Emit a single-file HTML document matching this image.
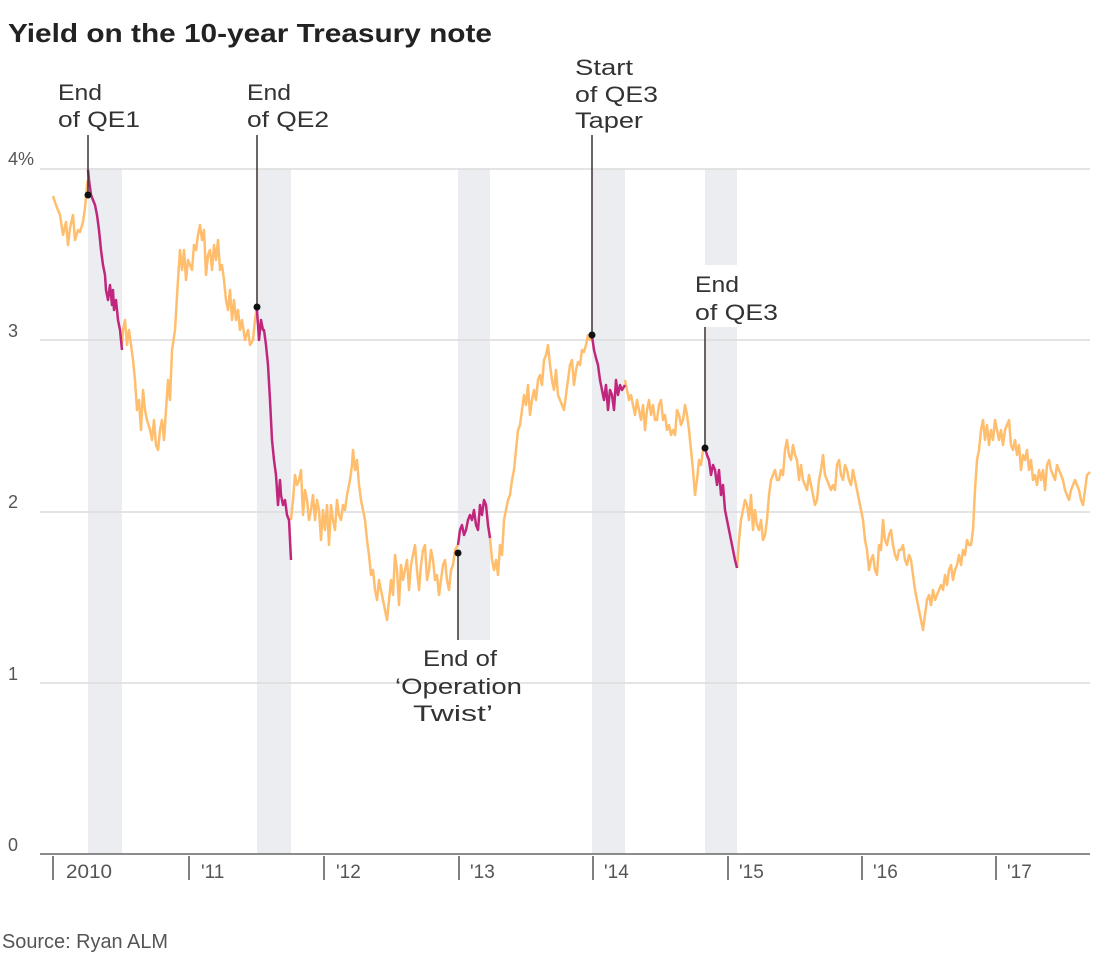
<!DOCTYPE html>
<html><head><meta charset="utf-8"><style>
html,body{margin:0;padding:0;background:#fff;}
svg text{font-family:"Liberation Sans",sans-serif;}
</style></head><body>
<svg width="1118" height="960" xmlns="http://www.w3.org/2000/svg">
<rect width="1118" height="960" fill="#fff"/>
<text x="8" y="42" font-size="26" font-weight="bold" fill="#222" textLength="484" lengthAdjust="spacingAndGlyphs">Yield on the 10-year Treasury note</text>
<g fill="#ebedf0">
<rect x="88" y="169" width="34" height="685"/>
<rect x="257" y="169" width="34" height="685"/>
<rect x="458" y="169" width="32" height="471"/>
<rect x="592" y="169" width="33" height="685"/>
<rect x="705" y="169" width="32" height="96"/>
<rect x="705" y="327" width="32" height="527"/>
</g>
<g stroke="#dcdcdc" stroke-width="1.5">
<line x1="40" y1="169" x2="1090" y2="169"/>
<line x1="40" y1="340" x2="1090" y2="340"/>
<line x1="40" y1="512" x2="1090" y2="512"/>
<line x1="40" y1="683" x2="1090" y2="683"/>
</g>
<line x1="40" y1="854" x2="1090" y2="854" stroke="#666" stroke-width="1.5"/>
<g font-size="18" fill="#555">
<text x="8" y="165">4%</text>
<text x="8" y="337">3</text>
<text x="8" y="508">2</text>
<text x="8" y="680">1</text>
<text x="8" y="851">0</text>
</g>
<g stroke="#555" stroke-width="1.5">
<line x1="53" y1="856" x2="53" y2="880"/><line x1="189" y1="856" x2="189" y2="880"/>
<line x1="324" y1="856" x2="324" y2="880"/><line x1="459" y1="856" x2="459" y2="880"/>
<line x1="593" y1="856" x2="593" y2="880"/><line x1="728" y1="856" x2="728" y2="880"/>
<line x1="862" y1="856" x2="862" y2="880"/><line x1="996" y1="856" x2="996" y2="880"/>
</g>
<g font-size="19" fill="#555">
<text x="66" y="878" textLength="46" lengthAdjust="spacingAndGlyphs">2010</text><text x="201" y="878">'11</text><text x="336" y="878">'12</text>
<text x="470" y="878">'13</text><text x="604" y="878">'14</text><text x="739" y="878">'15</text>
<text x="873" y="878">'16</text><text x="1007" y="878">'17</text>
</g>
<g fill="none" stroke-width="2.5" stroke-linejoin="round">
<polyline stroke="#ffbe6e" points="53,196 56,205 60,215 63,235 66,222 68,245 70,228 73,215 75,240 78,230 80,232 83,222 85,208 87,185 88,180"/>
<polyline stroke="#ffbe6e" points="122,345 123,330 125,320 127,345 129,330 131,345 133,360 135,380 137,410 139,400 141,430 143,390 145,410 147,420 150,430 152,440 154,420 156,445 158,450 160,430 162,420 164,440 166,410 168,380 170,400 172,350 175,330 178,280 180,250 182,270 184,250 186,280 188,260 190,265 192,270 194,245 196,250 198,235 200,225 202,240 204,230 206,275 208,255 210,250 212,270 214,245 216,260 218,240 220,270 222,265 224,280 226,300 228,310 230,290 232,320 234,300 236,320 238,310 240,330 242,320 245,340 248,330 250,345 253,340 255,320 257,305"/>
<polyline stroke="#ffbe6e" points="291,520 293,500 295,475 297,485 299,480 301,470 303,515 305,490 307,500 309,520 311,510 313,495 315,520 317,500 319,510 321,540 323,510 325,530 327,505 329,545 331,505 333,520 335,530 337,500 339,515 341,520 343,505 345,510 347,495 350,480 352,465 353,450 355,470 357,460 359,485 361,500 363,510 365,520 367,540 369,555 371,575 373,570 375,590 377,600 379,580 381,590 383,600 385,610 387,620 389,600 391,580 393,595 395,555 397,570 399,605 401,565 403,580 405,570 407,560 409,590 411,565 413,555 415,545 417,570 419,590 421,565 423,550 425,545 427,580 429,570 431,550 433,560 435,580 437,575 439,595 441,580 443,565 445,560 447,580 449,590 451,570 453,565 455,550 458,545"/>
<polyline stroke="#ffbe6e" points="490,538 492,560 494,570 496,560 498,575 500,545 502,555 504,520 506,510 508,500 510,495 512,480 514,470 516,450 518,430 520,425 522,410 524,395 526,405 528,385 530,415 532,400 534,390 536,400 538,380 540,375 542,385 544,360 546,355 548,345 550,365 552,380 554,390 556,370 558,395 560,400 562,405 564,410 566,395 568,380 570,365 572,360 574,385 576,370 578,362 580,365 582,350 584,352 586,345 588,335 590,340 592,335"/>
<polyline stroke="#ffbe6e" points="625,380 627,390 629,400 631,395 633,405 635,415 637,400 639,410 641,420 643,405 645,430 647,410 649,400 651,415 653,405 655,420 657,420 659,405 661,400 663,420 665,415 667,430 669,425 671,435 673,430 675,435 677,410 679,415 681,425 683,420 685,405 687,415 689,430 691,450 693,470 695,495 697,480 699,460 701,465 703,450 705,448"/>
<polyline stroke="#ffbe6e" points="737,568 739,540 741,520 743,510 745,500 747,505 749,520 751,495 753,530 755,510 757,525 759,530 761,520 763,540 765,535 767,520 769,495 771,480 773,475 775,470 777,480 779,480 781,470 783,475 785,450 787,440 789,455 791,460 793,445 795,455 797,460 799,480 801,465 803,480 805,485 807,490 809,475 811,485 813,495 815,505 817,500 819,480 821,470 823,455 825,475 827,480 829,485 831,490 833,485 835,490 837,465 839,460 841,475 843,480 845,465 847,470 849,480 851,485 853,470 855,480 857,490 859,500 861,510 863,520 865,540 867,550 869,570 871,560 873,555 875,570 877,575 879,545 881,550 883,520 885,540 887,545 889,535 891,530 893,545 895,555 897,560 899,550 901,550 903,545 905,560 907,565 909,555 911,560 913,575 915,590 917,600 919,610 921,620 923,630 925,615 927,600 929,595 931,605 933,590 935,600 937,595 939,590 941,585 943,590 945,575 947,585 949,570 951,565 953,580 955,570 957,565 959,555 961,565 963,550 965,555 967,540 969,545 971,545 973,530 975,490 977,460 979,450 981,430 983,420 985,440 987,425 989,445 991,430 993,440 995,420 997,430 999,440 1001,430 1003,445 1005,430 1007,425 1009,420 1011,445 1013,450 1015,440 1017,455 1019,445 1021,470 1023,455 1025,460 1027,450 1029,470 1031,460 1033,480 1035,475 1037,485 1039,470 1041,480 1043,470 1045,490 1047,465 1049,460 1051,470 1053,475 1055,480 1057,465 1059,470 1061,475 1063,480 1065,490 1067,495 1069,500 1071,490 1073,485 1075,480 1077,485 1079,490 1081,500 1083,505 1085,490 1087,475 1090,472"/>
<polyline stroke="#c0267d" points="88,170 89,180 91,195 93,200 95,205 97,215 99,230 101,250 103,265 105,275 106,290 108,300 110,285 112,305 113,290 114,310 116,300 118,320 120,330 122,350"/>
<polyline stroke="#c0267d" points="257,310 259,340 261,320 263,330 264,330 266,345 268,365 270,400 272,440 274,460 276,475 278,505 280,480 281,495 283,505 285,500 287,515 289,520 291,560"/>
<polyline stroke="#c0267d" points="458,545 460,530 462,525 464,535 466,530 468,520 470,515 472,520 474,510 476,525 478,530 480,505 482,515 484,500 486,505 488,525 490,538"/>
<polyline stroke="#c0267d" points="592,336 594,350 596,358 598,365 600,380 602,390 604,400 606,385 608,410 610,390 612,395 614,410 616,380 618,395 620,385 622,390 625,385"/>
<polyline stroke="#c0267d" points="705,448 707,455 709,460 711,475 713,465 715,470 717,485 719,470 721,495 723,485 725,510 727,520 729,530 731,540 733,550 735,560 737,568"/>
</g>
<g stroke="#3a3330" stroke-width="1.5">
<line x1="88" y1="135" x2="88" y2="195"/>
<line x1="257" y1="135" x2="257" y2="307"/>
<line x1="592" y1="135" x2="592" y2="335"/>
<line x1="458" y1="553" x2="458" y2="640"/>
<line x1="705" y1="327" x2="705" y2="448"/>
</g>
<g fill="#111">
<circle cx="88" cy="195" r="3.5"/><circle cx="257" cy="307" r="3.5"/>
<circle cx="592" cy="335" r="3.5"/><circle cx="458" cy="553" r="3.5"/>
<circle cx="705" cy="448" r="3.5"/>
</g>
<g font-size="22" fill="#333">
<text x="58" y="100" textLength="44" lengthAdjust="spacingAndGlyphs">End</text><text x="58" y="127" textLength="82" lengthAdjust="spacingAndGlyphs">of QE1</text>
<text x="247" y="100" textLength="44" lengthAdjust="spacingAndGlyphs">End</text><text x="247" y="127" textLength="82" lengthAdjust="spacingAndGlyphs">of QE2</text>
<text x="575" y="75" textLength="58" lengthAdjust="spacingAndGlyphs">Start</text><text x="575" y="102" textLength="83" lengthAdjust="spacingAndGlyphs">of QE3</text><text x="575" y="128" textLength="68" lengthAdjust="spacingAndGlyphs">Taper</text>
<text x="423" y="666" textLength="74" lengthAdjust="spacingAndGlyphs">End of</text><text x="395" y="694" textLength="127" lengthAdjust="spacingAndGlyphs">‘Operation</text><text x="413" y="721" textLength="80" lengthAdjust="spacingAndGlyphs">Twist’</text>
<text x="695" y="292" textLength="44" lengthAdjust="spacingAndGlyphs">End</text><text x="695" y="320" textLength="83" lengthAdjust="spacingAndGlyphs">of QE3</text>
</g>
<text x="2" y="948" font-size="20" fill="#555" textLength="166" lengthAdjust="spacingAndGlyphs">Source: Ryan ALM</text>
</svg>
</body></html>
